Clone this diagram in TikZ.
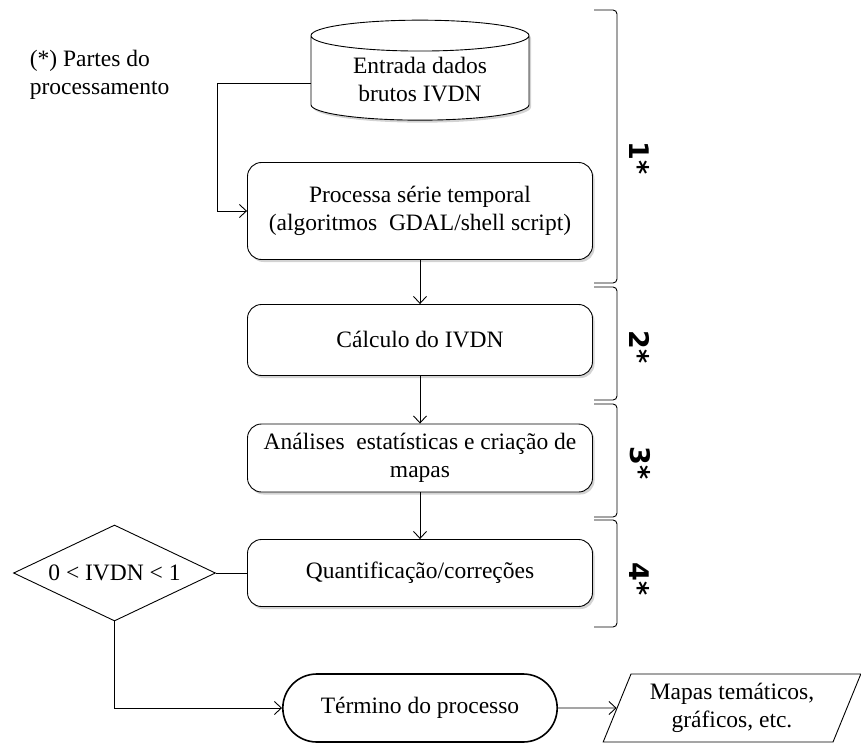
\documentclass[tikz,border=0pt]{standalone}
\usepackage{fontspec}
\setmainfont{Liberation Serif}
\newfontfamily\labelfont{DejaVu Sans}
\usepackage{tikz}
\usetikzlibrary{arrows.meta,positioning,shapes.geometric,shapes.misc,shadows}

\begin{document}
\begin{tikzpicture}[x=1pt,y=1pt,
      >={Straight Barb[length=7pt,width=13pt]}
      ]
      \useasboundingbox (0,0) rectangle (861,-743);
      \begin{scope}[line width=0.9pt,on grid,
        font=\fontsize{23.5}{28}\selectfont,
        shade/.style={drop shadow={shadow xshift=2pt,shadow yshift=-2.5pt,opacity=0.35,fill=gray}},
        block/.style={rectangle,draw,rounded corners=14pt,fill=white,shade,minimum width=345pt,align=center},
        datastore/.style={cylinder,draw,shape border rotate=90,aspect=0.22,fill=white,shade,minimum width=218pt,minimum height=100pt,align=center},
        decision/.style={diamond,draw,aspect=2.1,inner sep=0pt,minimum width=202pt,minimum height=96pt},
        terminal/.style={rounded rectangle,draw,line width=1.6pt,minimum width=281pt,minimum height=68pt},
        output/.style={trapezium,draw,trapezium left angle=68,trapezium right angle=112,trapezium stretches=true,minimum width=258pt,minimum height=68pt,align=center,inner xsep=0pt},
        part_label/.style={font=\labelfont\bfseries\fontsize{27}{30}\selectfont,rotate=-90}]

        \node[align=left,anchor=north west] (note) at (26,-46) {(*) Partes do\\processamento};

        \node[datastore] (raw_data) at (420,-80) {Entrada dados\\brutos IVDN};
        \node[block, minimum height=97pt, below=131pt of raw_data] (time_series) {Processa série temporal\\(algoritmos\ \ GDAL/shell script)};
        \node[block, minimum height=71pt, below=129pt of time_series] (ivdn_calc) {Cálculo do IVDN};
        \node[block, minimum height=68pt, below=118pt of ivdn_calc] (stats_maps) {Análises\ \ estatísticas e criação de\\mapas};
        \node[block, minimum height=67pt, below=115pt of stats_maps] (quant_corr) {Quantificação/correções};
        \node[decision, left=305.5pt of quant_corr] (ivdn_check) {0 < IVDN < 1};
        \node[terminal, below=135pt of quant_corr] (end_proc) {Término do processo};
        \node[output, right=312pt of end_proc] (maps_out) {Mapas temáticos,\\gráficos, etc.};

        \draw[->] ([xshift=-109pt,yshift=-3pt]raw_data.center) -| ([xshift=-30pt]time_series.west) -- (time_series.west);
        \draw[->] (time_series) -- (ivdn_calc);
        \draw[->] (ivdn_calc) -- (stats_maps);
        \draw[->] (stats_maps) -- (quant_corr);
        \draw (ivdn_check) -- (quant_corr);
        \draw[->] (ivdn_check.south) |- (end_proc.west);
        \draw[->] (end_proc) -- (maps_out);

        % brackets for the parts of the processing
        \foreach \top/\bot/\mid/\num in {10/283/158/1, 287/400/347/2, 404/517/463/3, 520/627/579/4} {
          \draw[rounded corners=4pt] (594,-\top) -- (617,-\top) -- (617,-\bot) -- (594,-\bot);
          \node[part_label] (part\num) at (640,-\mid) {\num*};
        }
      \end{scope}

    \end{tikzpicture}
\end{document}
